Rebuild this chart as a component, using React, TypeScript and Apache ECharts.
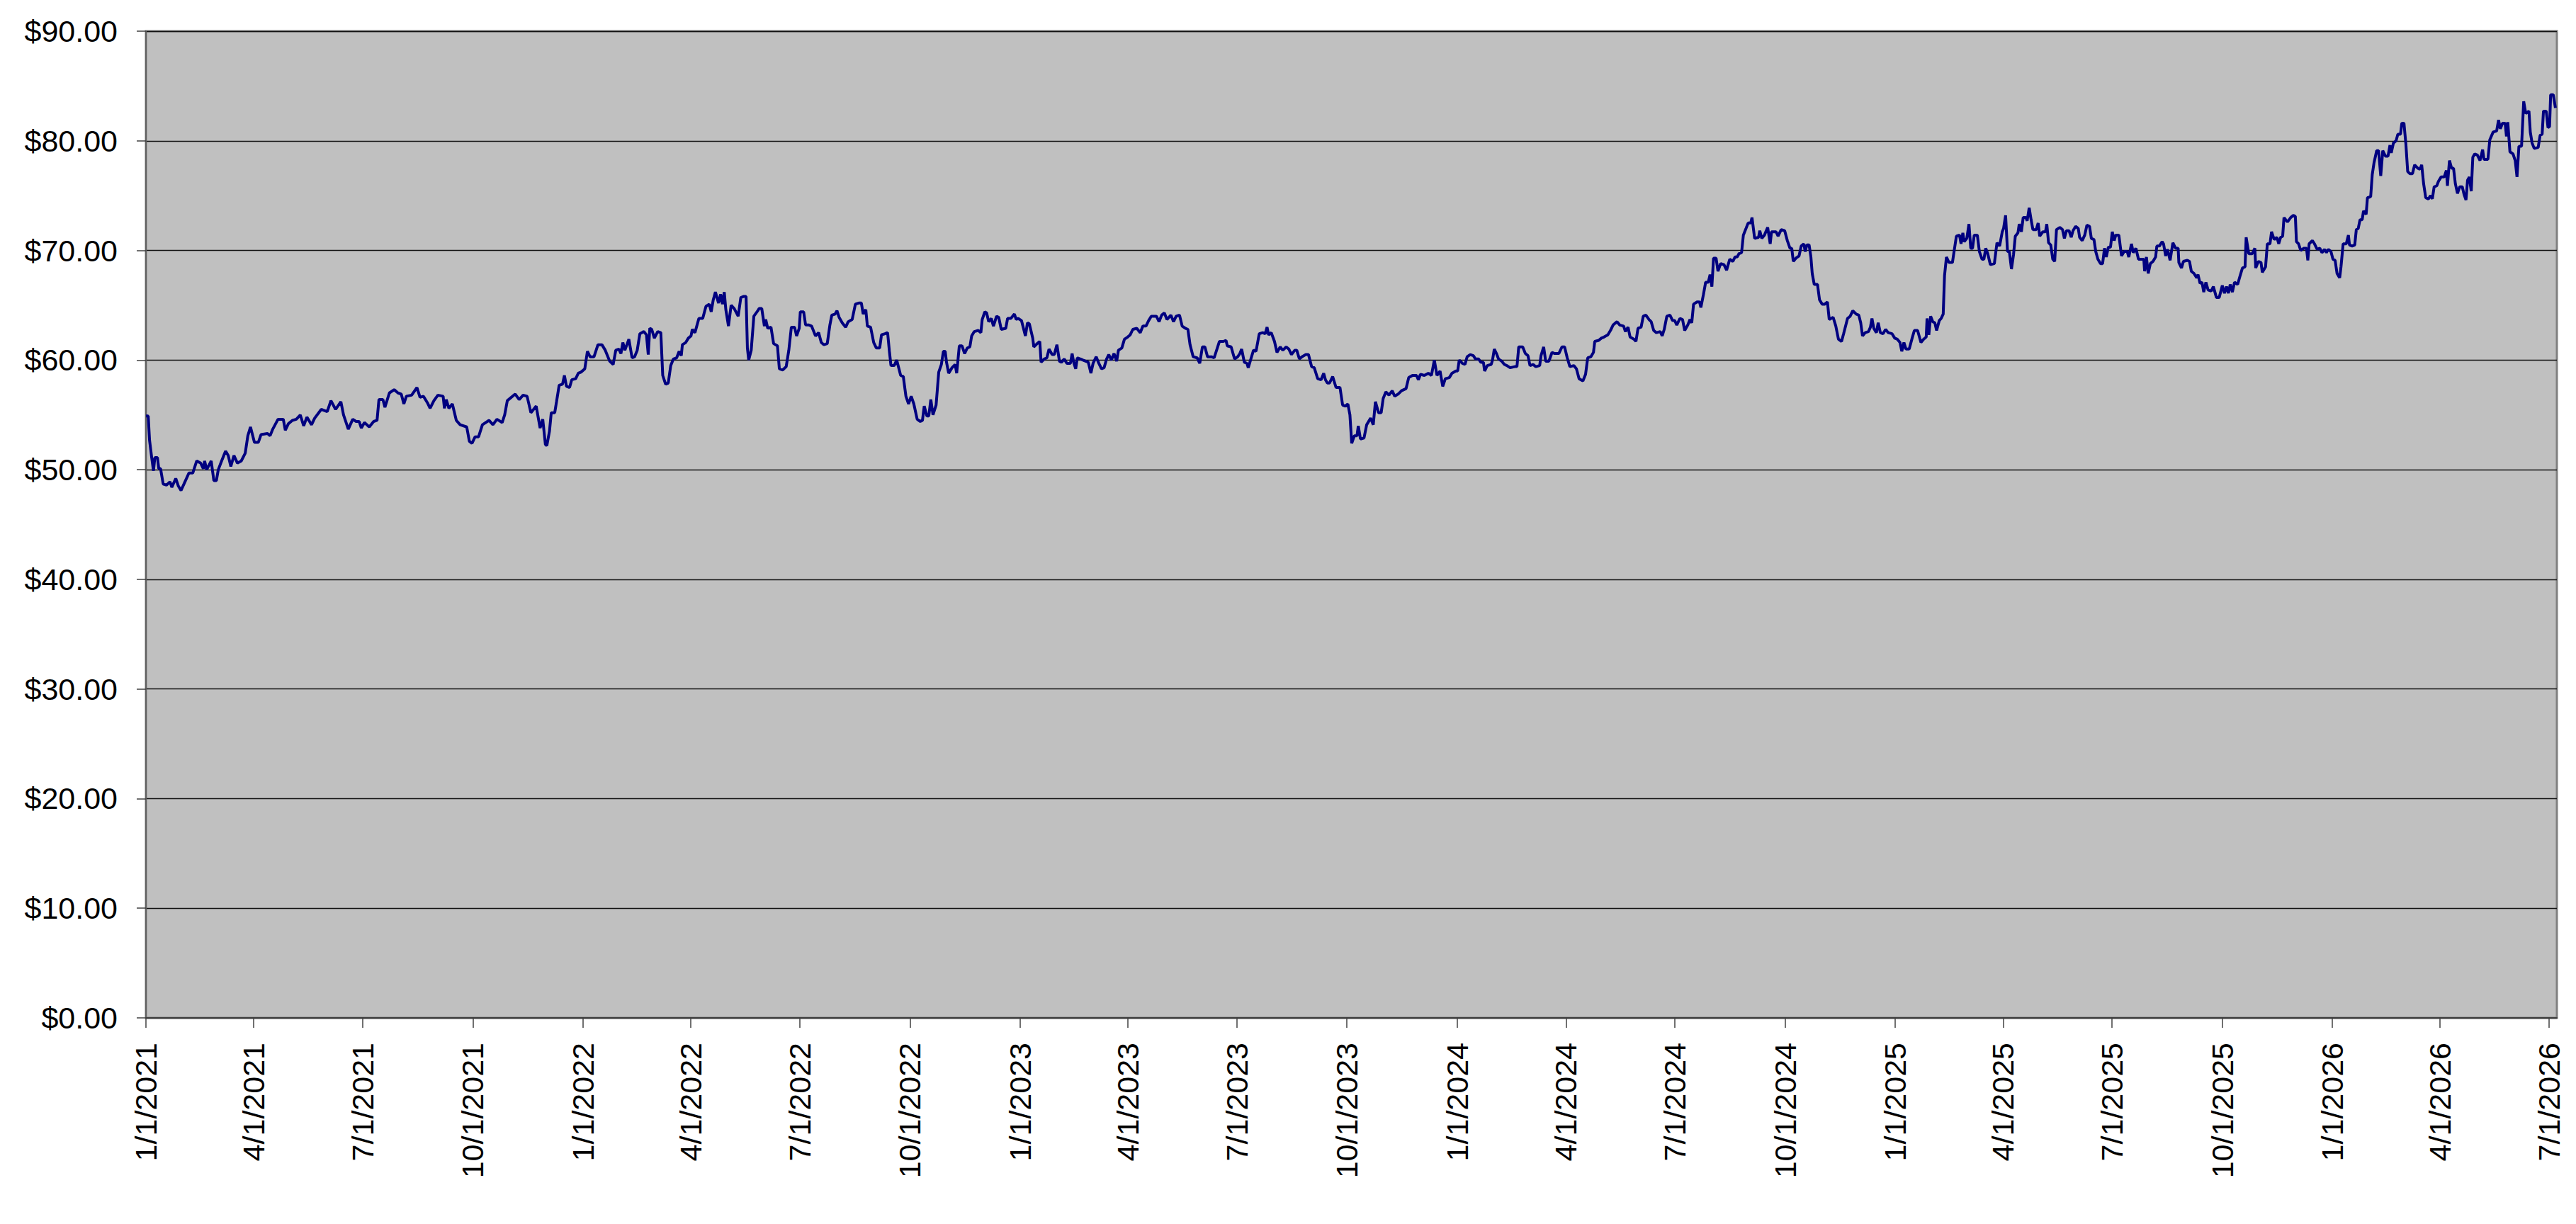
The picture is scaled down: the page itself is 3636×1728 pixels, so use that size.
import React, { useEffect, useRef } from "react";
import * as echarts from "echarts";

// Day offsets since 1/1/2021 and closing prices, split by period.
const daysA = [
  0, 1.9, 3.0, 4.8, 6.3, 7.4, 9.6, 10.7, 12.2, 14.4,
  17.2, 20.1, 21.6, 24.9, 27.1, 29.3, 32.6, 35.9, 39.1, 42.4,
  45.7, 47.9, 49.0, 50.7, 54.5, 56.7, 58.8, 60.4, 63.2, 66.5,
  68.7, 70.9, 73.5, 76.4, 79.6, 82.9, 85.1, 87.3, 90.6, 93.9,
  96.1, 101.5, 103.7, 105.9, 110.3, 114.7, 116.4, 119.0, 122.3, 125.6,
  128.9, 131.7, 134.4, 138.3, 140.9, 146.4, 151.4, 154.5, 158.4, 162.8,
  165.0, 169.0, 172.7, 175.5, 178.1, 179.9, 182.5, 186.5, 190.2, 193.0,
  194.6, 197.9, 199.6, 203.3, 207.3, 210.5, 213.2, 215.4, 217.5, 221.9,
  226.3, 228.9, 231.8, 235.1, 237.3, 240.5, 243.8, 248.2, 249.3, 250.8,
  253.0, 255.9, 259.2, 262.4, 267.9, 270.1, 272.3, 274.9, 277.8, 281.0,
  286.5, 289.8, 293.1, 297.5, 299.6, 301.8, 308.4, 311.7, 315.0, 318.3,
  321.5, 325.9, 329.2, 331.4, 333.6,
];
const pricesA = [
  54.9, 54.9, 52.7, 51.1, 49.9, 51.1, 51.1, 50.1, 50.1, 48.7,
  48.6, 48.9, 48.4, 49.2, 48.5, 48.1, 48.9, 49.7, 49.7, 50.8,
  50.6, 50.1, 50.8, 50.0, 50.8, 49.0, 49.0, 50.0, 50.8, 51.7,
  51.3, 50.3, 51.3, 50.6, 50.8, 51.5, 53.1, 53.9, 52.5, 52.5,
  53.2, 53.3, 53.1, 53.7, 54.6, 54.6, 53.6, 54.2, 54.5, 54.6,
  55.0, 54.0, 54.8, 54.1, 54.7, 55.5, 55.3, 56.3, 55.5, 56.2,
  55.0, 53.7, 54.6, 54.4, 54.4, 53.8, 54.3, 53.9, 54.4, 54.5,
  56.4, 56.4, 55.7, 57.0, 57.3, 57.0, 56.9, 56.0, 56.7, 56.8,
  57.5, 56.6, 56.7, 56.1, 55.6, 56.3, 56.8, 56.7, 55.6, 56.4,
  55.6, 56.0, 54.5, 54.1, 53.9, 52.6, 52.4, 53.0, 53.0, 54.1,
  54.5, 54.1, 54.6, 54.3, 55.0, 56.3, 56.9, 56.4, 56.8, 56.7,
  55.2, 55.8, 53.8, 54.6, 52.3,
];

const daysB = [
  334.8, 337.0, 338.5, 341.4, 342.9, 345.1, 347.9, 349.5, 351.2, 353.8,
  355.6, 358.9, 361.1, 363.3, 366.5, 368.7, 370.9, 374.2, 377.5, 380.8,
  383.6, 387.3, 390.2, 392.4, 395.0, 396.7, 398.3, 400.0, 403.3, 406.0,
  408.1, 410.3, 412.5, 415.8, 418.0, 419.5, 420.8, 422.4, 424.6, 427.4,
  430.0, 431.6, 434.0, 436.2, 438.3, 440.5, 443.2, 445.3, 447.1, 448.0,
  450.8, 453.0, 455.2, 456.3, 458.5, 461.8, 465.0, 467.7, 470.5, 472.1,
  473.8, 475.6, 478.2, 479.9, 481.5, 483.0, 484.3, 486.5, 488.7, 491.3,
  494.6, 496.8, 499.0, 501.2, 502.3, 503.4, 505.5, 507.7, 511.0, 512.1,
  514.3, 516.5, 517.6, 519.3, 522.0, 524.2, 527.4, 529.0, 531.8, 534.7,
  536.9, 539.0, 541.7, 543.4, 545.6, 546.5, 549.3, 550.9, 553.7, 555.9,
  559.2, 561.8, 564.0, 566.2, 569.0, 571.2, 572.8, 575.6, 577.1, 578.9,
  581.5, 584.4, 586.5, 589.8, 592.5, 595.3, 597.5, 599.0, 601.2, 602.5,
  605.2, 607.8, 610.0, 612.8, 614.3, 617.2, 619.4, 620.9, 622.2, 624.9,
  627.0, 630.3, 632.5, 634.7, 636.9, 639.1, 641.3, 644.1, 646.7, 648.5,
  650.0, 652.2, 653.8, 655.5, 657.3, 659.9, 662.1, 664.3, 666.0, 667.5,
  668.6, 670.4,
];
const pricesB = [
  52.2, 53.5, 55.2, 55.2, 56.2, 57.7, 57.8, 58.6, 57.6, 57.5,
  58.2, 58.3, 58.8, 58.9, 59.2, 60.8, 60.3, 60.3, 61.4, 61.4,
  60.9, 59.9, 59.6, 60.9, 61.0, 60.6, 61.6, 60.9, 61.9, 60.2,
  60.3, 60.9, 62.4, 62.6, 62.3, 60.5, 62.9, 62.8, 62.0, 62.6,
  62.5, 58.6, 57.8, 57.9, 59.5, 60.1, 60.2, 60.8, 60.4, 61.4,
  61.6, 62.0, 62.2, 62.8, 62.5, 63.8, 63.8, 64.9, 65.1, 64.4,
  65.5, 66.2, 65.2, 66.0, 65.1, 66.2, 64.6, 63.1, 65.0, 64.7,
  64.0, 65.7, 65.8, 65.8, 61.1, 60.0, 60.9, 64.0, 64.5, 64.7,
  64.7, 63.1, 63.7, 62.9, 63.0, 61.5, 61.3, 59.2, 59.1, 59.4,
  60.9, 63.0, 63.0, 62.2, 62.9, 64.4, 64.4, 63.2, 63.2, 63.1,
  62.2, 62.5, 61.6, 61.4, 61.5, 63.2, 64.1, 64.2, 64.5, 63.9,
  63.4, 63.0, 63.5, 63.7, 65.1, 65.2, 65.2, 64.2, 64.6, 63.1,
  63.0, 61.6, 61.1, 61.1, 62.3, 62.4, 62.5, 60.8, 59.5, 59.5,
  60.0, 58.6, 58.5, 56.7, 56.0, 56.7, 56.0, 54.6, 54.4, 54.5,
  55.8, 54.9, 54.9, 56.4, 55.0, 55.9, 58.9, 59.6, 60.8, 60.8,
  59.8, 58.8,
];

const daysC = [
  673.2, 675.8, 677.1, 679.3, 681.5, 683.7, 685.9, 688.1, 689.6, 691.8,
  695.1, 697.3, 698.4, 700.6, 702.1, 703.8, 706.0, 707.8, 710.4, 712.2,
  714.3, 718.1, 719.6, 722.4, 725.3, 726.8, 728.4, 731.2, 734.5, 736.2,
  737.8, 740.6, 741.5, 744.3, 746.5, 747.6, 750.2, 752.4, 754.2, 756.8,
  758.6, 760.8, 762.9, 764.7, 766.9, 769.1, 772.1, 773.5, 775.0, 776.5,
  777.8, 780.5, 782.6, 784.8, 787.0, 789.2, 791.0, 793.6, 795.8, 798.0,
  800.2, 802.3, 804.1, 806.3, 808.5, 810.7, 812.2, 815.0, 817.2, 819.9,
  822.0, 824.2, 827.5, 830.4, 832.6, 835.2, 837.4, 839.6, 843.9, 846.1,
  848.3, 850.5, 852.7, 856.0, 858.2, 860.4, 863.2, 865.4, 868.0, 870.2,
  872.0, 874.6, 877.9, 880.1, 882.3, 884.4, 886.6, 889.9, 892.1, 896.5,
  899.8, 902.0, 903.1, 906.3, 909.2, 911.8, 913.6, 915.1, 917.3, 919.5,
  920.6, 922.8, 925.0, 927.1, 929.8, 932.6, 934.8, 936.3, 937.6, 939.8,
  942.5, 944.6, 947.3, 949.5, 952.3, 954.5, 956.7, 959.5, 961.1, 963.3,
  965.4, 968.7, 970.9, 973.5, 975.7, 978.6, 981.4, 983.6, 985.1, 986.7,
  988.4, 991.1, 993.9, 997.2, 999.4, 1001.6, 1003.8, 1005.5, 1007.0, 1009.2,
  1011.4, 1012.5, 1014.3,
];
const pricesC = [
  59.3, 59.6, 58.8, 61.3, 61.3, 60.6, 61.1, 61.2, 62.2, 62.6,
  62.7, 62.5, 63.7, 64.4, 64.3, 63.5, 63.8, 63.1, 64.0, 63.9,
  62.8, 62.9, 63.8, 63.8, 64.2, 63.7, 63.8, 63.6, 62.2, 63.4,
  63.3, 62.0, 61.2, 61.5, 61.7, 59.8, 60.1, 60.2, 61.0, 60.5,
  60.5, 61.4, 59.9, 59.8, 60.1, 59.7, 59.7, 60.6, 59.7, 59.2,
  60.2, 60.1, 60.0, 59.9, 59.8, 58.8, 59.7, 60.3, 59.7, 59.2,
  59.3, 60.1, 60.5, 60.0, 60.6, 59.9, 60.9, 61.1, 61.9, 62.1,
  62.3, 62.8, 62.9, 62.5, 63.1, 63.1, 63.6, 64.0, 64.0, 63.5,
  64.1, 64.3, 63.7, 64.1, 63.5, 64.0, 64.1, 63.1, 62.9, 62.8,
  61.4, 60.3, 60.2, 59.7, 61.2, 61.2, 60.3, 60.3, 60.2, 61.7,
  61.7, 61.8, 61.3, 61.2, 60.1, 60.3, 60.6, 61.0, 59.8, 59.7,
  59.3, 60.1, 60.9, 60.8, 62.4, 62.5, 62.4, 63.0, 62.3, 62.5,
  61.7, 60.7, 61.2, 60.9, 61.2, 61.0, 60.5, 60.9, 60.9, 60.1,
  60.3, 60.5, 60.5, 59.4, 59.3, 58.3, 58.2, 58.8, 58.2, 57.9,
  57.9, 58.5, 57.5, 57.5, 55.9, 55.8, 56.0, 55.0, 52.4, 53.1,
  53.1, 54.0, 52.8,
];

const daysD = [
  1017.3, 1019.5, 1022.8, 1025.0, 1026.8, 1029.4, 1031.6, 1033.3, 1035.5, 1038.1,
  1040.8, 1042.9, 1045.8, 1048.6, 1052.4, 1054.6, 1057.8, 1061.1, 1062.7, 1064.4,
  1067.7, 1071.0, 1073.6, 1076.0, 1078.2, 1080.8, 1083.0, 1085.2, 1088.5, 1090.7,
  1094.0, 1095.5, 1096.8, 1099.4, 1101.6, 1103.4, 1106.0, 1108.6, 1110.4, 1113.0,
  1114.8, 1117.0, 1118.0, 1120.2, 1123.5, 1124.6, 1126.1, 1127.9, 1129.6, 1132.3,
  1134.5, 1136.6, 1139.3, 1143.2, 1145.0, 1146.5, 1149.8, 1152.0, 1154.2, 1155.9,
  1158.5, 1160.7, 1164.0, 1165.1, 1167.3, 1169.0, 1171.7, 1174.3, 1176.5, 1180.0,
  1182.6, 1184.8, 1187.0, 1189.2, 1192.5, 1194.7, 1196.9, 1200.1, 1202.3, 1204.1,
  1206.7, 1208.9, 1210.0, 1213.3, 1215.5, 1217.7, 1220.9, 1223.1, 1225.3, 1228.6,
  1230.8, 1234.1, 1235.6, 1237.8, 1239.5, 1242.8, 1244.4, 1246.1, 1248.7, 1250.5,
  1252.7, 1255.3, 1257.1, 1259.2, 1261.4, 1264.7, 1266.3, 1268.0, 1270.2, 1272.8,
  1275.0, 1276.8, 1278.5, 1281.1, 1283.3, 1285.1, 1287.7, 1289.5, 1291.0, 1292.5,
  1295.4, 1297.5, 1298.6, 1300.8, 1302.6, 1304.8, 1306.3, 1307.8, 1309.2, 1311.3,
  1312.9, 1315.1, 1317.9, 1320.1, 1322.7, 1325.3, 1327.1, 1328.9, 1330.4, 1332.6,
  1334.1, 1336.3, 1338.1, 1340.2, 1341.3, 1343.5, 1346.8,
];
const pricesD = [
  52.9, 54.1, 54.7, 54.1, 56.2, 55.2, 55.2, 56.5, 57.1, 56.8,
  57.2, 56.7, 56.9, 57.2, 57.4, 58.4, 58.6, 58.6, 58.2, 58.7,
  58.6, 58.8, 58.6, 60.0, 58.6, 59.0, 57.6, 58.3, 58.4, 58.8,
  59.0, 59.0, 60.0, 59.7, 59.6, 60.3, 60.5, 60.4, 60.1, 60.1,
  59.8, 59.8, 59.0, 59.5, 59.6, 60.0, 61.0, 60.6, 60.1, 59.9,
  59.6, 59.5, 59.3, 59.4, 59.4, 61.2, 61.2, 60.6, 60.4, 59.5,
  59.6, 59.4, 59.5, 60.4, 61.2, 59.9, 59.9, 60.7, 60.6, 60.6,
  61.2, 61.2, 60.2, 59.4, 59.5, 59.2, 58.3, 58.1, 58.7, 60.2,
  60.3, 60.7, 61.7, 61.8, 62.0, 62.1, 62.3, 62.7, 63.2, 63.5,
  63.2, 63.1, 62.6, 63.0, 62.1, 61.9, 61.7, 62.9, 63.0, 64.0,
  64.1, 63.7, 63.5, 62.7, 62.5, 62.6, 62.2, 62.8, 64.0, 64.1,
  63.6, 63.6, 63.2, 63.8, 63.7, 62.7, 63.2, 63.7, 63.4, 65.1,
  65.3, 65.3, 64.8, 66.0, 67.1, 67.1, 67.8, 66.7, 69.3, 69.3,
  68.1, 68.8, 68.7, 68.2, 69.2, 69.0, 69.4, 69.4, 69.7, 69.8,
  71.4, 72.0, 72.5, 72.5, 73.0, 71.1, 71.2,
];

const daysE = [
  1347.8, 1349.5, 1351.7, 1354.4, 1356.5, 1357.6, 1361.4, 1363.1, 1365.7, 1368.6,
  1370.8, 1373.0, 1374.5, 1375.8, 1378.0, 1380.6, 1382.4, 1384.6, 1385.7, 1387.2,
  1389.0, 1390.5, 1391.6, 1393.3, 1396.0, 1397.7, 1399.9, 1402.1, 1404.3, 1405.8,
  1409.1, 1411.3, 1413.5, 1416.1, 1417.8, 1421.1, 1423.3, 1425.5, 1428.3, 1430.5,
  1432.1, 1433.6, 1435.8, 1438.6, 1440.2, 1441.5, 1443.0, 1445.2, 1446.7, 1448.5,
  1450.7, 1452.9, 1455.1, 1458.3, 1460.5, 1462.7, 1464.9, 1466.4, 1468.2, 1469.9,
  1472.6, 1474.8, 1476.9, 1479.6, 1482.4, 1484.6, 1486.8, 1487.5, 1489.0, 1490.5,
  1492.3, 1494.0, 1495.5, 1497.7, 1499.3, 1501.0, 1502.1, 1503.7, 1505.8, 1508.7,
  1510.2, 1512.0, 1514.6, 1515.9, 1517.4, 1518.5, 1520.7, 1522.5, 1524.0, 1525.5,
  1526.9, 1529.5, 1531.2, 1533.4, 1535.0, 1536.5, 1538.2, 1540.4, 1543.7, 1545.9,
  1548.1, 1550.3, 1551.4, 1553.1, 1554.7, 1556.2, 1558.0, 1559.7, 1561.2, 1563.4,
  1564.5, 1566.3, 1567.8, 1570.0, 1571.1, 1572.8, 1574.4, 1575.9, 1578.7, 1580.3,
  1581.6, 1584.2, 1586.4, 1587.5, 1589.0, 1590.8, 1592.5, 1594.1, 1595.6, 1598.4,
  1600.6, 1602.2, 1603.9, 1606.1, 1607.9, 1609.4, 1611.6, 1613.8, 1614.9, 1617.1,
  1619.2, 1621.0, 1623.2, 1624.7, 1626.9, 1628.4, 1630.2, 1632.4, 1634.1, 1635.7,
  1637.2, 1638.9, 1640.7, 1642.2, 1643.8, 1645.1, 1647.7, 1649.9, 1652.1, 1654.7,
  1656.0, 1658.2, 1659.7, 1661.9, 1664.1, 1666.3, 1668.5, 1669.2, 1670.7, 1672.2,
  1674.0, 1676.2, 1678.4, 1679.4, 1681.6, 1683.8,
];
const pricesE = [
  71.8, 71.1, 71.4, 72.1, 70.6, 71.7, 71.7, 71.3, 71.9, 71.8,
  70.9, 70.2, 70.2, 69.0, 69.3, 69.5, 70.4, 70.6, 69.9, 70.5,
  70.5, 69.4, 67.9, 66.9, 66.9, 65.5, 65.1, 65.1, 65.3, 63.7,
  63.9, 63.1, 61.9, 61.7, 62.4, 63.8, 64.0, 64.5, 64.2, 64.1,
  63.4, 62.2, 62.5, 62.6, 63.0, 63.8, 62.9, 62.5, 63.4, 62.5,
  62.4, 62.8, 62.5, 62.4, 62.0, 61.9, 61.6, 60.8, 61.6, 61.0,
  61.0, 61.9, 62.7, 62.7, 61.6, 61.9, 62.1, 63.8, 62.3, 64.0,
  63.5, 63.4, 62.7, 63.6, 63.8, 64.2, 67.7, 69.4, 68.9, 68.9,
  70.0, 71.3, 71.4, 70.6, 71.6, 70.8, 71.1, 72.4, 70.2, 70.2,
  71.4, 71.4, 69.9, 69.2, 69.2, 70.2, 69.7, 68.7, 68.8, 70.7,
  70.4, 71.7, 72.0, 73.2, 69.9, 69.9, 68.3, 69.6, 71.3, 71.6,
  72.4, 71.7, 73.0, 73.0, 72.7, 73.9, 72.8, 71.9, 71.9, 72.5,
  71.3, 71.7, 71.7, 72.4, 70.7, 70.5, 69.2, 69.0, 71.9, 72.1,
  71.9, 71.1, 71.8, 71.8, 71.2, 71.8, 72.2, 72.0, 71.2, 70.9,
  71.4, 72.3, 72.2, 71.1, 71.0, 69.9, 69.2, 68.8, 68.8, 70.2,
  69.4, 70.3, 70.3, 71.7, 70.9, 71.4, 71.4, 69.5, 69.9, 69.9,
  69.4, 70.6, 69.8, 70.2, 69.2, 69.2, 69.2, 68.1, 69.4, 67.9,
  68.8, 69.0, 69.4, 70.4, 70.4, 70.8,
];

const daysF = [
  1685.0, 1686.8, 1688.3, 1690.5, 1692.8, 1695.0, 1697.2, 1697.8, 1700.0, 1701.6,
  1704.9, 1706.7, 1708.2, 1710.4, 1712.7, 1713.8, 1715.5, 1717.1, 1718.6, 1720.4,
  1722.2, 1724.8, 1726.6, 1729.2, 1731.5, 1734.1, 1735.9, 1737.6, 1739.2, 1740.7,
  1742.5, 1744.3, 1746.9, 1748.7, 1750.9, 1753.1, 1754.0, 1756.2, 1759.1, 1761.3,
  1762.0, 1764.2, 1766.4, 1767.5, 1770.2, 1771.7, 1773.9, 1775.2, 1777.4, 1779.7,
  1781.2, 1782.8, 1784.5, 1785.6, 1788.5, 1791.2, 1793.4, 1795.1, 1796.0, 1797.8,
  1799.6, 1802.2, 1804.4, 1805.5, 1806.6, 1809.3, 1811.1, 1813.3, 1815.5, 1817.3,
  1819.5, 1821.0, 1822.6, 1824.8, 1826.5, 1828.3, 1829.9, 1832.1, 1833.2, 1835.0,
  1837.6, 1839.4, 1840.3, 1842.5, 1844.7, 1846.0, 1847.6, 1849.1, 1850.9, 1852.0,
  1854.2, 1855.3, 1858.0, 1859.3, 1860.8, 1863.0, 1864.6, 1866.4, 1868.1, 1870.3,
  1872.5, 1874.1, 1875.2, 1877.0, 1879.2, 1880.7, 1882.9, 1884.0, 1885.8, 1887.4,
  1888.9, 1890.7, 1892.9, 1894.7, 1897.3, 1899.1, 1900.6, 1902.2, 1904.0, 1906.2,
  1908.0, 1909.5, 1911.0, 1913.2, 1914.6, 1916.8, 1919.4, 1921.2, 1922.1, 1923.8,
  1925.6, 1927.2, 1928.7, 1930.5, 1932.3, 1934.5, 1936.0, 1937.6, 1938.9, 1940.4,
  1942.0, 1943.3, 1944.9, 1947.1, 1949.3, 1951.5, 1952.6, 1955.9, 1957.5, 1960.3,
  1963.2, 1964.8, 1966.3, 1968.1, 1970.3, 1971.4, 1972.5, 1974.3, 1976.9, 1978.7,
  1980.2, 1981.8, 1984.0, 1985.8, 1987.5, 1990.2, 1991.3, 1992.8, 1994.6, 1997.9,
  1999.5, 2001.2, 2002.3, 2004.6, 2006.1, 2007.4, 2008.3, 2010.5, 2012.3,
];
const pricesF = [
  70.6, 69.5, 70.1, 69.1, 70.7, 70.2, 70.2, 68.9, 68.4, 69.0,
  69.1, 69.0, 68.1, 67.9, 67.5, 67.8, 67.0, 67.1, 66.2, 67.1,
  66.4, 66.3, 66.7, 65.7, 65.7, 66.8, 66.1, 66.7, 66.1, 66.9,
  66.2, 67.1, 66.9, 67.6, 68.4, 68.5, 71.2, 69.7, 69.7, 70.2,
  68.4, 69.0, 68.9, 68.0, 68.5, 70.6, 70.6, 71.7, 71.0, 71.2,
  70.6, 71.2, 71.3, 73.0, 72.6, 73.0, 73.2, 73.1, 70.8, 70.6,
  70.0, 70.2, 70.2, 69.1, 70.6, 70.9, 70.6, 70.1, 70.2, 69.8,
  70.1, 69.8, 70.1, 69.9, 69.2, 69.1, 67.9, 67.5, 68.5, 70.6,
  70.6, 71.4, 70.5, 70.4, 70.5, 71.9, 72.0, 72.8, 72.8, 73.6,
  73.3, 74.8, 74.9, 76.9, 78.0, 79.1, 79.1, 76.8, 79.1, 78.6,
  78.6, 79.6, 78.9, 79.8, 80.0, 80.6, 80.6, 81.6, 81.6, 79.7,
  77.2, 77.0, 77.0, 77.8, 77.5, 77.4, 77.8, 76.1, 74.8, 74.7,
  75.0, 74.7, 75.8, 75.9, 76.3, 76.7, 76.7, 77.3, 75.9, 78.2,
  77.5, 77.5, 76.1, 75.2, 75.8, 75.8, 75.1, 74.6, 76.4, 76.7,
  75.4, 78.5, 78.8, 78.7, 78.2, 79.2, 78.3, 78.3, 80.1, 80.8,
  80.9, 81.9, 81.1, 81.6, 81.6, 80.4, 81.7, 79.0, 78.8, 78.2,
  76.7, 79.5, 79.5, 83.6, 82.5, 82.7, 80.8, 79.8, 79.3, 79.4,
  80.5, 80.6, 82.7, 82.7, 81.2, 81.3, 84.2, 84.2, 83.0,
];

// Axis settings
const startYear = 2021;
const quarterCount = 23; // 1/1/2021 .. 7/1/2026
const axisEndDays = 2013.5;
const yMin = 0;
const yMax = 90;
const yInterval = 10;

const DAY_MS = 86400000;
const BASE_UTC = Date.UTC(startYear, 0, 1);

const dayList = [...daysA, ...daysB, ...daysC, ...daysD, ...daysE, ...daysF];
const priceList = [...pricesA, ...pricesB, ...pricesC, ...pricesD, ...pricesE, ...pricesF];

// Tick positions: first day of each quarter, as day offsets from 1/1/2021.
const quarterTicks: number[] = [];
for (let i = 0; i < quarterCount; i++) {
  const y = startYear + Math.floor(i / 4);
  const m = (i % 4) * 3;
  quarterTicks.push(Math.round((Date.UTC(y, m, 1) - BASE_UTC) / DAY_MS));
}

const formatDay = (v: number) => {
  const d = new Date(BASE_UTC + Math.round(v) * DAY_MS);
  return `${d.getUTCMonth() + 1}/${d.getUTCDate()}/${d.getUTCFullYear()}`;
};

const FONT = "'Liberation Sans', Arial, Helvetica, sans-serif";

export default function App() {
  const ref = useRef<HTMLDivElement>(null);
  useEffect(() => {
    document.body.style.margin = "0";
    if (!ref.current) return;
    const chart = echarts.init(ref.current, undefined, { renderer: "svg" });
    const n = Math.min(dayList.length, priceList.length);
    const data: [number, number][] = [];
    for (let i = 0; i < n; i++) data.push([dayList[i], priceList[i]]);
    chart.setOption({
      animation: false,
      backgroundColor: "#ffffff",
      grid: {
        left: 206,
        top: 44,
        right: 27,
        bottom: 291,
        show: true,
        backgroundColor: "#C0C0C0",
        borderColor: "#808080",
        borderWidth: 3,
        containLabel: false,
      },
      xAxis: {
        type: "value",
        min: 0,
        max: axisEndDays,
        axisLine: { show: true, onZero: false, lineStyle: { color: "#404040", width: 2 } },
        axisTick: {
          show: true,
          length: 14,
          customValues: quarterTicks,
          lineStyle: { color: "#404040", width: 1.5 },
        },
        axisLabel: {
          show: true,
          customValues: quarterTicks,
          rotate: 90,
          margin: 35,
          fontSize: 43,
          fontFamily: FONT,
          color: "#000000",
          formatter: (v: number) => formatDay(v),
        },
        splitLine: { show: false },
      },
      yAxis: {
        type: "value",
        min: yMin,
        max: yMax,
        interval: yInterval,
        axisLine: { show: true, lineStyle: { color: "#606060", width: 2 } },
        axisTick: { show: true, length: 13, lineStyle: { color: "#404040", width: 1.5 } },
        axisLabel: {
          margin: 40,
          fontSize: 43,
          fontFamily: FONT,
          color: "#000000",
          formatter: (v: number) => `$${v.toFixed(2)}`,
        },
        splitLine: { show: true, lineStyle: { color: "#111111", width: 1.3 } },
      },
      series: [
        {
          type: "line",
          data,
          showSymbol: false,
          symbol: "none",
          lineStyle: { color: "#000080", width: 4 },
          z: 5,
        },
      ],
    });
    return () => chart.dispose();
  }, []);
  return <div ref={ref} style={{ width: 3636, height: 1728 }} />;
}
